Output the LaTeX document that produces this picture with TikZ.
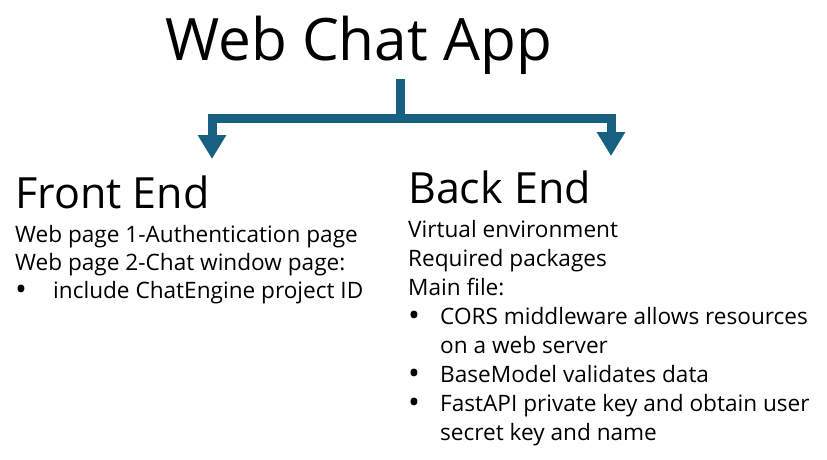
\documentclass[tikz,border=0pt]{standalone}
\usepackage{fontspec}
\setmainfont{Open Sans}
\usetikzlibrary{arrows.meta}
\definecolor{flowblue}{RGB}{24,96,130}
\tikzset{
  flow/.style={draw=flowblue, line width=9pt, line join=miter,
    {Triangle[width=27pt,length=24pt]}-{Triangle[width=27pt,length=24pt]}},
  stem/.style={draw=flowblue, line width=9pt},
  titletext/.style={anchor=base west, inner sep=0pt, font=\fontsize{58.5}{64}\selectfont},
  heading/.style={anchor=base west, inner sep=0pt, font=\fontsize{43}{48}\selectfont},
  body/.style={anchor=base west, inner sep=0pt, font=\fontsize{22.6}{28}\selectfont},
}
\newcommand{\fbul}{\makebox[38pt][l]{\raisebox{-2pt}{\scalebox{1.4}{\textbullet}}}}
\newcommand{\bbul}{\makebox[32pt][l]{\raisebox{-2pt}{\scalebox{1.4}{\textbullet}}}}
\begin{document}
\begin{tikzpicture}[x=1pt,y=-1pt]
  \useasboundingbox (0,0) rectangle (827,460);
  % title and split
  \node[titletext] (title) at (165,60) {Web Chat App};
  \coordinate (top) at (400,79);
  \coordinate (split) at (400,118);
  \coordinate (fe) at (212,159);
  \coordinate (be) at (611,156);
  \draw[stem] (top) -- (split);
  \draw[flow] (fe) |- (split) -| (be);
  % front end
  \node[heading] (front) at (15,208) {Front End};
  \node[body] (f1) at (15,242) {Web page 1-Authentication page};
  \node[body] (f2) at (15,270) {Web page 2-Chat window page:};
  \node[body] (f3) at (15,298) {\fbul include ChatEngine project ID};
  % back end
  \node[heading] (back) at (408,203) {Back End};
  \node[body] (b1) at (408,237) {Virtual environment};
  \node[body] (b2) at (408,266) {Required packages};
  \node[body] (b3) at (408,295) {Main file:};
  \node[body] (b4) at (408,324) {\bbul CORS middleware allows resources};
  \node[body] (b5) at (440,353) {on a web server};
  \node[body] (b6) at (408,382) {\bbul BaseModel validates data};
  \node[body] (b7) at (408,411) {\bbul FastAPI private key and obtain user};
  \node[body] (b8) at (440,440) {secret key and name};
\end{tikzpicture}
\end{document}
